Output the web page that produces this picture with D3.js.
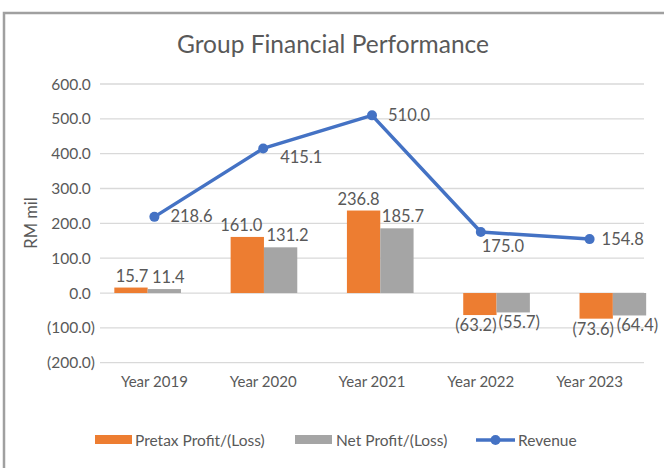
<!DOCTYPE html>
<html>
<head>
<meta charset="utf-8">
<script src="https://cdn.jsdelivr.net/npm/d3@7"></script>
<style>
  body { margin: 0; background: #fff; }
  svg { display: block; font-family: Lato, "Open Sans", sans-serif; }
</style>
</head>
<body>
<script>
// chart values
var years = ["Year 2019", "Year 2020", "Year 2021", "Year 2022", "Year 2023"];
var pretax = [15.7, 161.0, 236.8, -63.2, -73.6];
var netProfit = [11.4, 131.2, 185.7, -55.7, -64.4];
var revenue = [218.6, 415.1, 510.0, 175.0, 154.8];
var yTicks = [-200, -100, 0, 100, 200, 300, 400, 500, 600];
var seriesNames = ["Pretax Profit/(Loss)", "Net Profit/(Loss)", "Revenue"];

var W = 664, H = 468;
var colors = { pretax: "#ED7D31", net: "#A5A5A5", rev: "#4472C4" };
var textCol = "#595959";

var svg = d3.select("body").append("svg")
    .attr("width", W)
    .attr("height", H);

// outer frame
svg.append("rect")
    .attr("x", 4).attr("y", 13)
    .attr("width", 720).attr("height", 520)
    .attr("fill", "none")
    .attr("stroke", "#a0a0a0")
    .attr("stroke-width", 2.5);

// title
svg.append("text")
    .attr("x", 333).attr("y", 53)
    .attr("text-anchor", "middle")
    .attr("font-size", 24.5)
    .attr("fill", textCol)
    .text("Group Financial Performance");

// scales
var plotLeft = 100, plotRight = 644;
var y = d3.scaleLinear().domain([-200, 600]).range([362.7, 84]);
// category positions for the line and axis labels
var x = d3.scaleBand().domain(years).range([plotLeft, plotRight]);
// bars sit on a slightly wider spacing in the source picture
var xBar = d3.scaleBand().domain(years).range([89.5, 671]);
var xSub = d3.scaleBand().domain(["pretax", "net"])
    .range([0, xBar.bandwidth()]).paddingOuter(0.745).paddingInner(0);

function fmt(v) {
  var s = d3.format(",.1f")(Math.abs(v));
  return v < 0 ? "(" + s + ")" : s;
}

// gridlines
svg.append("g")
  .selectAll("line")
  .data(yTicks)
  .join("line")
    .attr("x1", plotLeft).attr("x2", plotRight)
    .attr("y1", function(d) { return y(d); })
    .attr("y2", function(d) { return y(d); })
    .attr("stroke", "#d9d9d9")
    .attr("stroke-width", 1.3);

// y axis labels (right aligned, positives keep room for ")")
var yLab = svg.append("g")
  .selectAll("text")
  .data(yTicks)
  .join("text")
    .attr("x", 95)
    .attr("y", function(d) { return y(d) + 5.5; })
    .attr("text-anchor", "end")
    .attr("font-size", 15.5)
    .attr("fill", textCol);
yLab.append("tspan").text(function(d) { return fmt(d); });
yLab.filter(function(d) { return d >= 0; })
  .append("tspan").attr("fill-opacity", 0).text(")");

// y axis title
svg.append("text")
    .attr("transform", "translate(37,223) rotate(-90)")
    .attr("text-anchor", "middle")
    .attr("font-size", 16.5)
    .attr("fill", textCol)
    .text("RM mil");

// x axis labels
svg.append("g")
  .selectAll("text")
  .data(years)
  .join("text")
    .attr("x", function(d) { return x(d) + x.bandwidth() / 2; })
    .attr("y", 387)
    .attr("text-anchor", "middle")
    .attr("font-size", 15)
    .attr("fill", textCol)
    .text(function(d) { return d; });

// bars
var barData = [];
years.forEach(function(yr, i) {
  barData.push({ year: yr, key: "pretax", v: pretax[i], i: i });
  barData.push({ year: yr, key: "net", v: netProfit[i], i: i });
});

svg.append("g")
  .selectAll("rect")
  .data(barData)
  .join("rect")
    .attr("x", function(d) { return xBar(d.year) + xSub(d.key); })
    .attr("width", xSub.bandwidth())
    .attr("y", function(d) { return y(Math.max(0, d.v)); })
    .attr("height", function(d) { return Math.abs(y(d.v) - y(0)); })
    .attr("fill", function(d) { return colors[d.key]; });

// bar labels, nudged apart the way the source places them
var labelShift = { pretax: [1, -6, -5, -4, -3], net: [4, 7, 6, 6, 8] };
svg.append("g")
  .selectAll("text")
  .data(barData)
  .join("text")
    .attr("x", function(d) { return xBar(d.year) + xSub(d.key) + xSub.bandwidth() / 2 + labelShift[d.key][d.i]; })
    .attr("y", function(d) { return d.v >= 0 ? y(d.v) - 6 : y(d.v) + 16; })
    .attr("text-anchor", "middle")
    .attr("font-size", 16.5)
    .attr("fill", textCol)
    .text(function(d) { return fmt(d.v); });

// revenue line
var line = d3.line()
    .x(function(d, i) { return x(years[i]) + x.bandwidth() / 2; })
    .y(function(d) { return y(d); });

svg.append("path")
    .datum(revenue)
    .attr("d", line)
    .attr("fill", "none")
    .attr("stroke", colors.rev)
    .attr("stroke-width", 3.5)
    .attr("stroke-linejoin", "round");

svg.append("g")
  .selectAll("circle")
  .data(revenue)
  .join("circle")
    .attr("cx", function(d, i) { return x(years[i]) + x.bandwidth() / 2; })
    .attr("cy", function(d) { return y(d); })
    .attr("r", 5)
    .attr("fill", colors.rev);

// revenue labels: offsets per point as in the source
var revOff = [[16, 5], [17, 15], [16, 6], [1, 20], [12, 6]];
svg.append("g")
  .selectAll("text")
  .data(revenue)
  .join("text")
    .attr("x", function(d, i) { return x(years[i]) + x.bandwidth() / 2 + revOff[i][0]; })
    .attr("y", function(d, i) { return y(d) + revOff[i][1]; })
    .attr("font-size", 16.5)
    .attr("fill", textCol)
    .text(function(d) { return fmt(d); });

// legend
var lg = svg.append("g").attr("font-size", 15.5).attr("fill", textCol);
lg.append("rect").attr("x", 95).attr("y", 435).attr("width", 37).attr("height", 9).attr("fill", colors.pretax);
lg.append("text").attr("x", 135).attr("y", 445.5).text(seriesNames[0]);
lg.append("rect").attr("x", 295).attr("y", 435).attr("width", 37).attr("height", 9).attr("fill", colors.net);
lg.append("text").attr("x", 336).attr("y", 445.5).text(seriesNames[1]);
lg.append("line").attr("x1", 476).attr("x2", 515).attr("y1", 440).attr("y2", 440)
    .attr("stroke", colors.rev).attr("stroke-width", 3.5);
lg.append("circle").attr("cx", 495.5).attr("cy", 440).attr("r", 5).attr("fill", colors.rev);
lg.append("text").attr("x", 518).attr("y", 445.5).text(seriesNames[2]);
</script>
</body>
</html>
